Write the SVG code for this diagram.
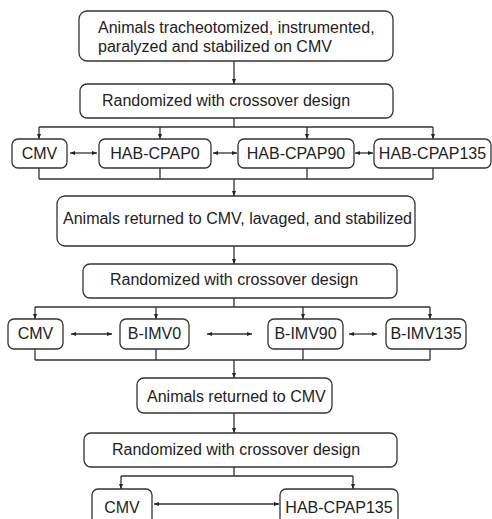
<svg xmlns="http://www.w3.org/2000/svg" width="492" height="519" viewBox="0 0 492 519">
<defs>
<marker id="ah" viewBox="0 0 10 10" refX="10" refY="5" markerWidth="5" markerHeight="5" orient="auto-start-reverse" markerUnits="userSpaceOnUse">
<path d="M0,1 L10,5 L0,9 z" fill="#222"/>
</marker>
<style>
.box{fill:#fff;stroke:#333;stroke-width:1.3}
.t{font-family:"Liberation Sans",Arial,sans-serif;font-size:16px;fill:#222}
.c{text-anchor:middle}
.ln{fill:none;stroke:#333;stroke-width:1.3}
.ar{fill:none;stroke:#333;stroke-width:1.3;marker-end:url(#ah)}
.dar{fill:none;stroke:#333;stroke-width:1.3;marker-end:url(#ah);marker-start:url(#ah)}
</style>
</defs>
<rect width="492" height="519" fill="#fff"/>
<g id="connectors">
<path class="ar" d="M234,61 V84"/>
<path class="ln" d="M234,118 V127 M39,127 H433"/>
<path class="ar" d="M39,127 V139"/>
<path class="ar" d="M160,127 V139"/>
<path class="ar" d="M307,127 V139"/>
<path class="ar" d="M433,127 V139"/>
<path class="dar" d="M70,153 H97"/>
<path class="dar" d="M213,153 H237"/>
<path class="dar" d="M355,153 H373"/>
<path class="ln" d="M39,168 V179 M160,168 V179 M307,168 V179 M433,168 V179 M39,179 H433"/>
<path class="ar" d="M234,179 V196"/>
<path class="ar" d="M234,246 V264"/>
<path class="ln" d="M234,298 V307 M35,307 H430"/>
<path class="ar" d="M35,307 V319"/>
<path class="ar" d="M156,307 V319"/>
<path class="ar" d="M303,307 V319"/>
<path class="ar" d="M430,307 V319"/>
<path class="dar" d="M71,334 H112"/>
<path class="dar" d="M207,334 H252"/>
<path class="dar" d="M349,334 H377"/>
<path class="ln" d="M35,349 V360 M156,349 V360 M303,349 V360 M430,349 V360 M35,360 H430"/>
<path class="ar" d="M234,360 V378"/>
<path class="ar" d="M234,413 V433"/>
<path class="ln" d="M234,467 V476 M121,476 H353"/>
<path class="ar" d="M121,476 V489"/>
<path class="ar" d="M353,476 V489"/>
<path class="dar" d="M154,504 H279"/>
</g>
<g id="n1"><rect class="box" x="79" y="11" width="314" height="50" rx="8"/>
<text class="t" x="98" y="33">Animals tracheotomized, instrumented,</text>
<text class="t" x="98" y="52">paralyzed and stabilized on CMV</text></g>
<g id="n2"><rect class="box" x="80" y="84" width="313" height="34" rx="7"/>
<text class="t" x="102" y="106">Randomized with crossover design</text></g>
<g id="n3"><rect class="box" x="12" y="139" width="55" height="29" rx="6"/>
<text class="t c" x="39.5" y="159">CMV</text></g>
<g id="n4"><rect class="box" x="99" y="139" width="112" height="29" rx="6"/>
<text class="t c" x="155" y="159">HAB-CPAP0</text></g>
<g id="n5"><rect class="box" x="238" y="139" width="116" height="29" rx="6"/>
<text class="t c" x="296" y="159">HAB-CPAP90</text></g>
<g id="n6"><rect class="box" x="374" y="139" width="117" height="29" rx="6"/>
<text class="t c" x="432.5" y="159">HAB-CPAP135</text></g>
<g id="n7"><rect class="box" x="57" y="196" width="358" height="50" rx="8"/>
<text class="t" x="63" y="224">Animals returned to CMV, lavaged, and stabilized</text></g>
<g id="n8"><rect class="box" x="83" y="264" width="314" height="34" rx="7"/>
<text class="t" x="110" y="285">Randomized with crossover design</text></g>
<g id="n9"><rect class="box" x="8" y="319" width="55" height="30" rx="6"/>
<text class="t c" x="35.5" y="339">CMV</text></g>
<g id="n10"><rect class="box" x="120" y="319" width="69" height="30" rx="6"/>
<text class="t c" x="154.5" y="339">B-IMV0</text></g>
<g id="n11"><rect class="box" x="268" y="319" width="75" height="30" rx="6"/>
<text class="t c" x="305.5" y="339">B-IMV90</text></g>
<g id="n12"><rect class="box" x="386" y="319" width="80" height="30" rx="6"/>
<text class="t c" x="426" y="339">B-IMV135</text></g>
<g id="n13"><rect class="box" x="137" y="378" width="195" height="35" rx="7"/>
<text class="t" x="147" y="402">Animals returned to CMV</text></g>
<g id="n14"><rect class="box" x="84" y="433" width="313" height="34" rx="7"/>
<text class="t" x="112" y="455">Randomized with crossover design</text></g>
<g id="n15"><rect class="box" x="92" y="489" width="60" height="40" rx="6"/>
<text class="t c" x="122" y="513">CMV</text></g>
<g id="n16"><rect class="box" x="280" y="489" width="118" height="40" rx="6"/>
<text class="t c" x="339" y="513">HAB-CPAP135</text></g>
</svg>
